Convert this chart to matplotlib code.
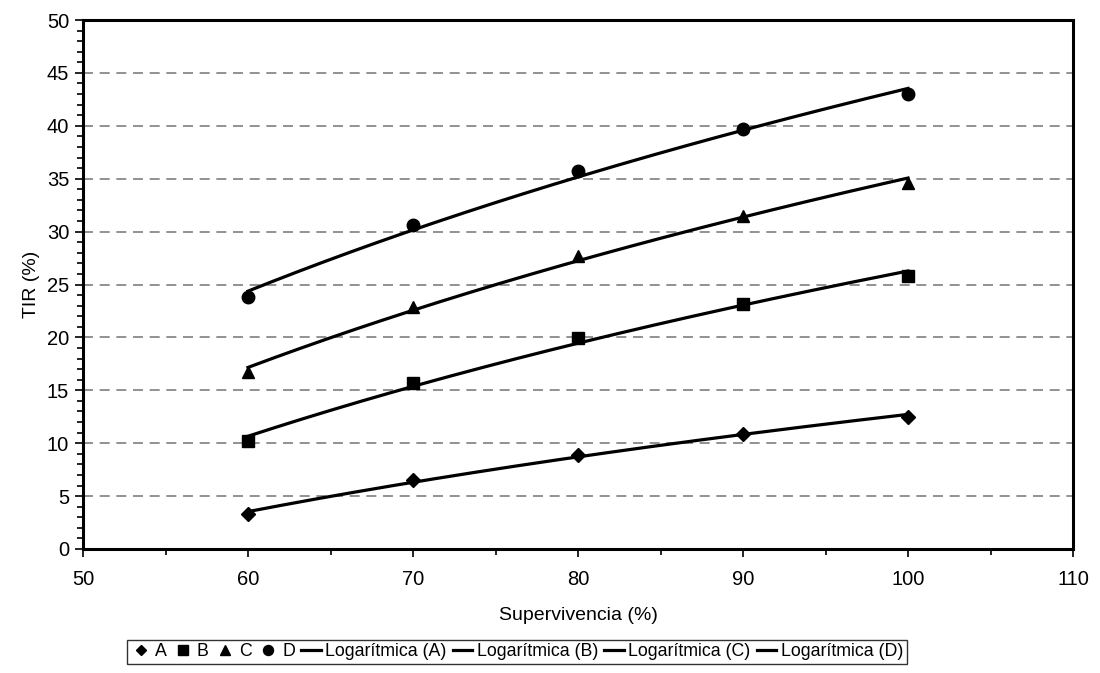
import numpy as np
import matplotlib
matplotlib.use("Agg")
import matplotlib.pyplot as plt
from matplotlib.ticker import MultipleLocator
from matplotlib.lines import Line2D

plt.rcParams['font.family'] = ['Liberation Sans', 'DejaVu Sans']

x = [60, 70, 80, 90, 100]
series_names = ["A", "B", "C", "D"]
A = [3.3, 6.5, 8.9, 10.9, 12.5]
B = [10.2, 15.7, 19.9, 23.2, 25.8]
C = [16.7, 22.9, 27.7, 31.5, 34.6]
D = [23.8, 30.6, 35.7, 39.7, 43.0]
markers = ["D", "s", "^", "o"]
msizes = [7, 8.5, 9, 9]

fig = plt.figure(figsize=(11, 6.73), dpi=100)
ax = fig.add_axes([83/1100, 1-549/673, 990/1100, 529/673])

xs = np.array(x, dtype=float)
xx = np.linspace(xs.min(), xs.max(), 200)
handles_m = []
handles_l = []
for name, ys, m, ms in zip(series_names, [A, B, C, D], markers, msizes):
    ax.plot(xs, ys, linestyle='none', marker=m, color='black', markersize=ms, zorder=3)
    a, b = np.polyfit(np.log(xs), np.array(ys), 1)
    ax.plot(xx, a*np.log(xx)+b, color='black', lw=2.3, zorder=2)
    handles_m.append(Line2D([], [], linestyle='none', marker=m, color='black', markersize=ms*0.8))
    handles_l.append(Line2D([], [], color='black', lw=2.3))

ax.set_xlim(50, 110)
ax.set_ylim(0, 50)
ax.xaxis.set_major_locator(MultipleLocator(10))
ax.xaxis.set_minor_locator(MultipleLocator(5))
ax.yaxis.set_major_locator(MultipleLocator(5))
ax.yaxis.set_minor_locator(MultipleLocator(1))
ax.tick_params(which='major', direction='out', length=6, width=1.2, labelsize=14.5, colors='black')
ax.tick_params(which='minor', direction='out', length=4, width=1.2)
ax.tick_params(axis='x', pad=9)
ax.tick_params(axis='y', pad=4)
for s in ax.spines.values():
    s.set_linewidth(2.2)
    s.set_color('black')
ax.yaxis.grid(True, which='major', linestyle=(0, (6, 4)), color='#7f7f7f', lw=1.2)
ax.set_axisbelow(True)

ax.set_xlabel("Supervivencia (%)", fontsize=14, labelpad=13)
ax.set_ylabel("TIR (%)", fontsize=14, labelpad=5)

labels = series_names + ["Logarítmica (%s)" % n for n in series_names]
leg = fig.legend(handles_m + handles_l, labels, ncol=8, loc='center',
                 bbox_to_anchor=(517/1100, 1-652/673), fontsize=12.8,
                 frameon=True, fancybox=False, edgecolor='black',
                 handlelength=1.1, handletextpad=0.25, columnspacing=0.35,
                 borderpad=0.2, borderaxespad=0)
leg.get_frame().set_linewidth(1.0)

fig.savefig("out.png", dpi=100)
